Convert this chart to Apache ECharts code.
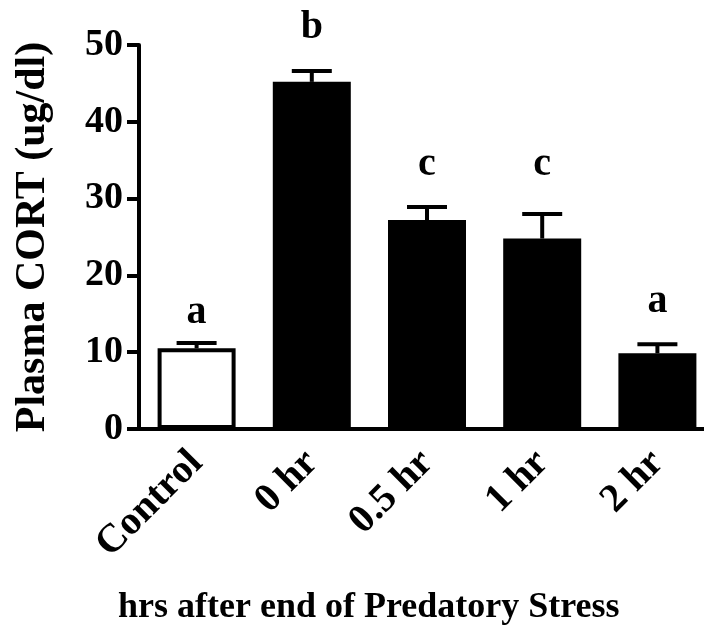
<!DOCTYPE html>
<html><head><meta charset="utf-8">
<script src="https://cdn.jsdelivr.net/npm/echarts@6/dist/echarts.min.js"></script>
<style>html,body{margin:0;padding:0;background:#fff;overflow:hidden}#c{width:720px;height:630px}</style>
</head><body><div id="c"></div>
<script>
const categories = ["Control", "0 hr", "0.5 hr", "1 hr", "2 hr"];
const means = [10.5, 45.2, 27.2, 24.8, 9.85];
const sem = [0.7, 1.4, 1.7, 3.2, 1.2];
const letters = ["a", "b", "c", "c", "a"];
const letterY = [15.1, 52.2, 34.4, 34.4, 16.6];
const yTicks = [0, 10, 20, 30, 40, 50];
const yTitle = "Plasma CORT (ug/dl)";
const xTitle = "hrs after end of Predatory Stress";

const FONT = '"Liberation Serif", "Times New Roman", serif';
const chart = echarts.init(document.getElementById('c'));
chart.setOption({
  animation: false,
  backgroundColor: '#fff',
  grid: { left: 139, width: 576, top: 45, height: 384, containLabel: false },
  title: {
    text: xTitle, left: 113, top: 585,
    textStyle: { fontFamily: FONT, fontWeight: 'bold', fontSize: 36, color: '#000' }
  },
  xAxis: {
    type: 'category', data: categories,
    axisLine: { lineStyle: { color: '#000', width: 4 } },
    axisTick: { alignWithLabel: true, length: 14, lineStyle: { color: '#000', width: 4 } },
    axisLabel: { rotate: 45, margin: 28, color: '#000', fontFamily: FONT, fontWeight: 'bold', fontSize: 40, interval: 0 }
  },
  yAxis: {
    type: 'value', min: yTicks[0], max: yTicks[yTicks.length - 1], interval: 10,
    name: yTitle, nameLocation: 'middle', nameGap: 85,
    nameTextStyle: { fontFamily: FONT, fontWeight: 'bold', fontSize: 42, color: '#000' },
    splitLine: { show: false },
    axisLine: { show: true, lineStyle: { color: '#000', width: 4 } },
    axisTick: { show: true, length: 12, lineStyle: { color: '#000', width: 4 } },
    axisLabel: { margin: 16, color: '#000', fontFamily: FONT, fontWeight: 'bold', fontSize: 38 }
  },
  series: [
    {
      type: 'bar', barWidth: 78, z: 2,
      data: means.map((v, i) => ({
        value: v,
        itemStyle: i === 0 ? { color: '#fff', borderColor: '#000', borderWidth: 4 } : { color: '#000', borderColor: '#000', borderWidth: 2 }
      }))
    },
    {
      type: 'custom', z: 3,
      data: means.map((v, i) => [i, v, v + sem[i]]),
      renderItem: function (params, api) {
        const x = api.coord([api.value(0), api.value(1)])[0];
        const y0 = api.coord([api.value(0), api.value(1)])[1];
        const y1 = api.coord([api.value(0), api.value(2)])[1];
        const hw = 20;
        const st = { stroke: '#000', lineWidth: 4 };
        return {
          type: 'group', children: [
            { type: 'line', shape: { x1: x, y1: y0, x2: x, y2: y1 }, style: st },
            { type: 'line', shape: { x1: x - hw, y1: y1, x2: x + hw, y2: y1 }, style: st }
          ]
        };
      }
    },
    {
      type: 'scatter', symbolSize: 1, clip: false, z: 4,
      itemStyle: { opacity: 0 },
      data: letterY.map((v, i) => ({ value: [i, v], name: letters[i] })),
      label: {
        show: true, position: 'inside', formatter: p => p.name, opacity: 1,
        color: '#000', fontFamily: FONT, fontWeight: 'bold', fontSize: 40
      }
    }
  ]
});
</script></body></html>
